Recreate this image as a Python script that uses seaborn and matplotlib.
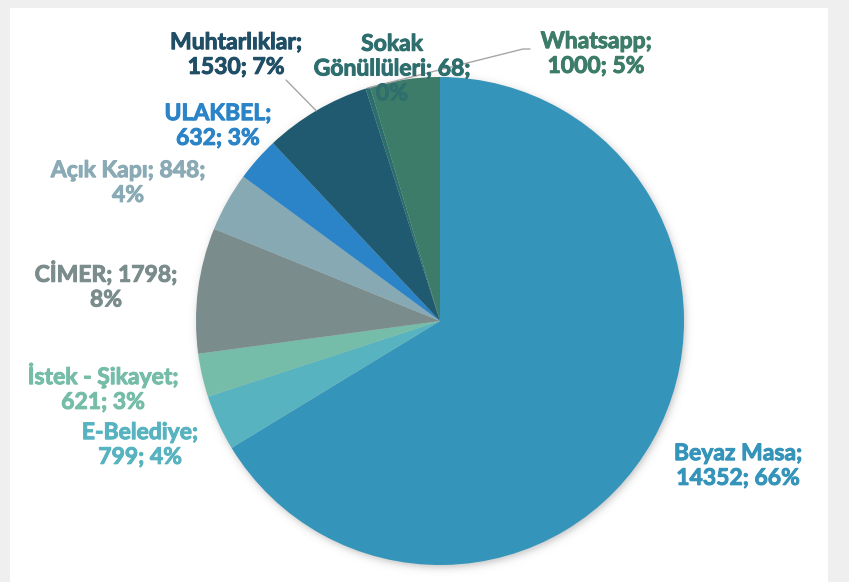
import numpy as np
import matplotlib
matplotlib.use("Agg")
import matplotlib.pyplot as plt
import matplotlib.patches as mpatches
import matplotlib.patheffects as pe
import seaborn as sns

# Application channels and their counts
channels = ["Beyaz Masa", "E-Belediye", "İstek - Şikayet", "CİMER", "Açık Kapı",
            "ULAKBEL", "Muhtarlıklar", "Sokak\nGönüllüleri", "Whatsapp"]
counts = [14352, 799, 621, 1798, 848, 632, 1530, 68, 1000]
slice_colors = ["#3594BA", "#57B3C0", "#75BDA8", "#7B8C8D", "#86A9B3",
                "#2A84C7", "#1F5A70", "#2C6E6E", "#3D7C68"]
text_colors = ["#3594BA", "#57B3C0", "#75BDA8", "#7B8C8D", "#8AAAB5",
               "#2A84C7", "#1F4E66", "#2E6E6E", "#3D7C68"]
# Where each label breaks its line: after the name or after the value
break_after_value = [False, False, False, True, True, False, False, True, False]

W, H = 849, 582
sns.set_theme(style="white")
plt.rcParams["font.family"] = ["Lato", "DejaVu Sans"]

fig = plt.figure(figsize=(W / 100, H / 100), dpi=100, facecolor="#EFEFEF")
fig.patches.append(mpatches.Rectangle((10 / W, 0), 818 / W, (H - 8) / H,
                                      transform=fig.transFigure, facecolor="white",
                                      edgecolor="none", zorder=-5))
ax = fig.add_axes([0, 0, 1, 1])
ax.patch.set_alpha(0)

cx, cy, R = 440, H - 321, 244

# Soft drop shadow under the pie
gx, gy = np.meshgrid(np.arange(cx - R - 30, cx + R + 30),
                     np.arange(cy - R - 30, cy + R + 30))
d = np.hypot(gx - (cx + 1), gy - (cy - 3))
alpha = 0.35 / (1 + np.exp((d - R) / 2.2))
shadow = np.zeros(gx.shape + (4,))
shadow[..., :3] = 0.35
shadow[..., 3] = alpha
ax.imshow(shadow, extent=(gx.min(), gx.max() + 1, gy.min(), gy.max() + 1),
          origin="lower", zorder=1, interpolation="bilinear")

palette = sns.color_palette(slice_colors)
wedges, _ = ax.pie(counts, colors=palette, startangle=90, counterclock=False,
                   center=(cx, cy), radius=R, frame=True,
                   wedgeprops=dict(linewidth=0, zorder=2))
ax.set_xlim(0, W)
ax.set_ylim(0, H)
ax.set_aspect("auto")
ax.axis("off")

total = sum(counts)
pcts = [round(c / total * 100) for c in counts]

# Label anchor points (pixels from top-left)
label_pos = [(738, 466), (140, 445), (103, 388), (106, 286), (128, 183),
             (218, 126), (236, 55), (392, 69), (596, 54)]

for name, cnt, pct, brk, col, (lx, ly) in zip(channels, counts, pcts,
                                             break_after_value, text_colors, label_pos):
    if brk:
        txt = f"{name}; {cnt};\n{pct}%"
    else:
        txt = f"{name};\n{cnt}; {pct}%"
    ax.text(lx, H - ly, txt, ha="center", va="center", color=col,
            fontsize=16.5, fontweight="bold", linespacing=1.22, zorder=5,
            path_effects=[pe.withStroke(linewidth=0.7, foreground=col)])

# Leader lines from the two upper labels to their slices
cum = np.cumsum([0] + counts)
def edge_point(i):
    frac = (cum[i] + counts[i] / 2) / total
    ang = np.deg2rad(90 - 360 * frac)
    return cx + R * np.cos(ang), cy + R * np.sin(ang)

mx, my = edge_point(6)
ax.plot([mx, 286], [my, H - 80], color="#A6A6A6", lw=1, zorder=4)
sx, sy = edge_point(7)
ax.plot([sx, 523, 530], [sy, H - 49, H - 49], color="#A6A6A6", lw=1, zorder=4)

fig.savefig("out.png", dpi=100, facecolor=fig.get_facecolor())
